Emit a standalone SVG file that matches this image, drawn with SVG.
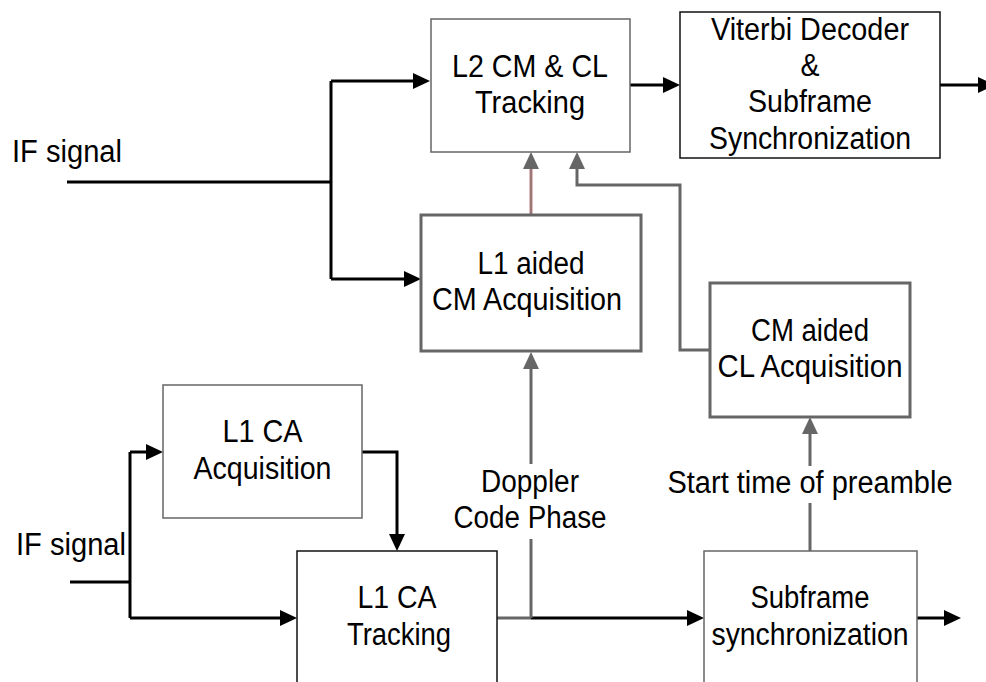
<svg xmlns="http://www.w3.org/2000/svg" width="986" height="682" viewBox="0 0 986 682">
  <defs>
    <style>
      .lbl { font-family: "Liberation Sans", Arial, sans-serif; font-size: 31px; fill: #000; }
      .mid { text-anchor: middle; }
      .box { fill: #fff; }
      .thin-gray { stroke: #666; stroke-width: 1.5; }
      .thin-black { stroke: #111; stroke-width: 1.5; }
      .thick-gray { stroke: #666; stroke-width: 3; }
      .wire { fill: none; stroke: #000; stroke-width: 3; }
      .wire-gray { fill: none; stroke: #666; stroke-width: 3; }
    </style>
    <marker id="ah-black" markerUnits="userSpaceOnUse" markerWidth="17" markerHeight="16" refX="0" refY="8" orient="auto" overflow="visible">
      <path d="M0,0 L17,8 L0,16 Z" fill="#000"/>
    </marker>
    <marker id="ah-gray" markerUnits="userSpaceOnUse" markerWidth="17" markerHeight="16" refX="0" refY="8" orient="auto" overflow="visible">
      <path d="M0,0 L17,8 L0,16 Z" fill="#666"/>
    </marker>
  </defs>

  <rect width="986" height="682" fill="#fff"/>

  <!-- signal inputs -->
  <text class="lbl" x="12" y="162" textLength="110" lengthAdjust="spacingAndGlyphs">IF signal</text>
  <text class="lbl" x="16" y="555" textLength="110" lengthAdjust="spacingAndGlyphs">IF signal</text>

  <!-- connectors -->
  <g id="connectors">
    <!-- upper IF split -->
    <path class="wire" d="M67,182 H331"/>
    <path class="wire" d="M331,81 V279"/>
    <path class="wire" d="M331,81 H413" marker-end="url(#ah-black)"/>
    <path class="wire" d="M331,279 H404" marker-end="url(#ah-black)"/>
    <!-- L2 tracking to Viterbi, Viterbi output -->
    <path class="wire" d="M630,85 H663" marker-end="url(#ah-black)"/>
    <path class="wire" d="M940,85 H978" marker-end="url(#ah-black)"/>
    <!-- lower IF split -->
    <path class="wire" d="M70,582 H130"/>
    <path class="wire" d="M130,452 V618"/>
    <path class="wire" d="M130,452 H146" marker-end="url(#ah-black)"/>
    <path class="wire" d="M130,618 H280" marker-end="url(#ah-black)"/>
    <!-- acquisition to tracking -->
    <path class="wire" d="M362,452 H397 V534" marker-end="url(#ah-black)"/>
    <!-- tracking to subframe sync -->
    <path class="wire-gray" d="M497,618 H531"/>
    <path class="wire" d="M531,618 H687" marker-end="url(#ah-black)"/>
    <path class="wire" d="M917,618 H944" marker-end="url(#ah-black)"/>
    <!-- Doppler / code phase feed -->
    <path class="wire-gray" d="M531,618 V539"/>
    <path class="wire-gray" d="M531,464 V369" marker-end="url(#ah-gray)"/>
    <!-- preamble start time feed -->
    <path class="wire-gray" d="M810,551 V503"/>
    <path class="wire-gray" d="M810,466 V434" marker-end="url(#ah-gray)"/>
    <!-- CL acquisition handover to L2 tracking -->
    <path class="wire-gray" d="M710,350 H680 V185 H577 V169" marker-end="url(#ah-gray)"/>
    <!-- CM acquisition handover to L2 tracking -->
    <path fill="none" stroke="#c07a7a" stroke-width="3" d="M531,215 V169"/>
    <path fill="none" stroke="#777" stroke-width="1" d="M531,215 V169" marker-end="url(#ah-gray)"/>
  </g>

  <!-- Doppler / preamble labels -->
  <text class="lbl mid" x="530" y="492" textLength="98" lengthAdjust="spacingAndGlyphs">Doppler</text>
  <text class="lbl mid" x="530" y="528" textLength="153" lengthAdjust="spacingAndGlyphs">Code Phase</text>
  <text class="lbl mid" x="810" y="493" textLength="285" lengthAdjust="spacingAndGlyphs">Start time of preamble</text>

  <g id="l2-tracking">
    <rect class="box thin-gray" x="431" y="19" width="199" height="133"/>
    <text class="lbl mid" x="530" y="77" textLength="156" lengthAdjust="spacingAndGlyphs">L2 CM &amp; CL</text>
    <text class="lbl mid" x="530" y="113" textLength="110" lengthAdjust="spacingAndGlyphs">Tracking</text>
  </g>

  <g id="viterbi">
    <rect class="box thin-black" x="680" y="12" width="260" height="146"/>
    <text class="lbl mid" x="810" y="40" textLength="198" lengthAdjust="spacingAndGlyphs">Viterbi Decoder</text>
    <text class="lbl mid" x="810" y="76" textLength="19" lengthAdjust="spacingAndGlyphs">&amp;</text>
    <text class="lbl mid" x="810" y="112" textLength="124" lengthAdjust="spacingAndGlyphs">Subframe</text>
    <text class="lbl mid" x="810" y="149" textLength="202" lengthAdjust="spacingAndGlyphs">Synchronization</text>
  </g>

  <g id="l1-aided-cm-acq">
    <rect class="box thick-gray" x="421" y="215" width="220" height="136"/>
    <text class="lbl mid" x="531" y="274" textLength="107" lengthAdjust="spacingAndGlyphs">L1 aided</text>
    <text class="lbl mid" x="527" y="310" textLength="190" lengthAdjust="spacingAndGlyphs">CM Acquisition</text>
  </g>

  <g id="cm-aided-cl-acq">
    <rect class="box thick-gray" x="710" y="283" width="200" height="134"/>
    <text class="lbl mid" x="810" y="341" textLength="118" lengthAdjust="spacingAndGlyphs">CM aided</text>
    <text class="lbl mid" x="810" y="377" textLength="185" lengthAdjust="spacingAndGlyphs">CL Acquisition</text>
  </g>

  <g id="l1-ca-acq">
    <rect class="box thin-gray" x="163" y="385" width="199" height="133"/>
    <text class="lbl mid" x="262.5" y="442" textLength="80" lengthAdjust="spacingAndGlyphs">L1 CA</text>
    <text class="lbl mid" x="262.5" y="479" textLength="138" lengthAdjust="spacingAndGlyphs">Acquisition</text>
  </g>

  <g id="l1-ca-tracking">
    <rect class="box thin-black" x="297" y="551" width="200" height="140"/>
    <text class="lbl mid" x="397" y="608" textLength="79" lengthAdjust="spacingAndGlyphs">L1 CA</text>
    <text class="lbl mid" x="399" y="645" textLength="104" lengthAdjust="spacingAndGlyphs">Tracking</text>
  </g>

  <g id="subframe-sync">
    <rect class="box thin-gray" x="704" y="551" width="213" height="140"/>
    <text class="lbl mid" x="810" y="608" textLength="119" lengthAdjust="spacingAndGlyphs">Subframe</text>
    <text class="lbl mid" x="810" y="645" textLength="197" lengthAdjust="spacingAndGlyphs">synchronization</text>
  </g>
</svg>
